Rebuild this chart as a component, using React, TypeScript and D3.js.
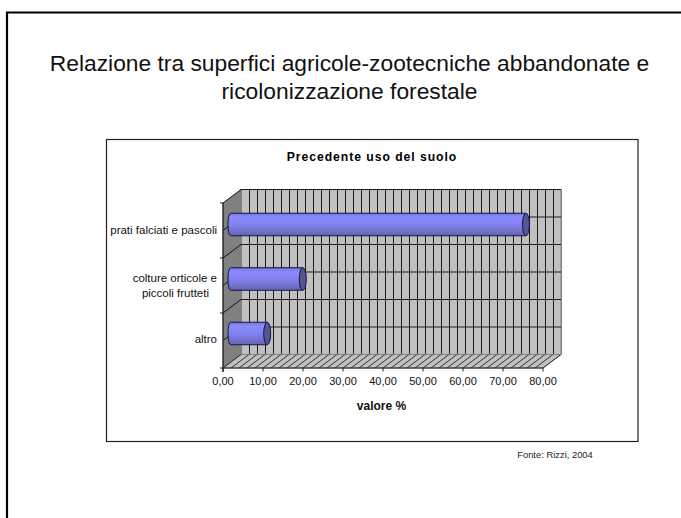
import React from "react";
import * as d3 from "d3";

const slideTitleLines = ["Relazione tra superfici agricole-zootecniche abbandonate e", "ricolonizzazione forestale"];
const chartTitle = "Precedente uso del suolo";
const axisTitle = "valore %";
const sourceNote = "Fonte: Rizzi, 2004";
const categories = ["prati falciati e pascoli", "colture orticole e|piccoli frutteti", "altro"];
const values = [74.5, 18.7, 9.8];
const xTicks = [0, 10, 20, 30, 40, 50, 60, 70, 80];
const xGrid = d3.range(0, 82, 2);
const yGridSteps = d3.range(0, 7);

const FONT = "'Liberation Sans', Arial, sans-serif";
const DX = 18;
const DY = -13.5;
const BAR_DX = 5;
const BAR_DY = -6;

const x = d3.scaleLinear().domain([0, 80]).range([223, 543]);
const yBand = d3.scaleBand<string>().domain(categories).range([203, 368]);
const yGrid = d3.scaleLinear().domain([0, 6]).range([203, 368]);
const fmt = (v: number) => d3.format(".2f")(v).replace(".", ",");

export default function App() {
  const front = yGrid(0), bottom = yGrid(6);
  const bw = yBand.bandwidth();
  const barH = bw * 0.41;
  const labelLine = d3.line();
  return (
    <svg width={681} height={518} style={{ position: "absolute", left: 0, top: 0, display: "block", background: "#fff" }} fontFamily={FONT}>
      <defs>
        <linearGradient id="barFill" x1="0" y1="0" x2="0" y2="1">
          <stop offset="0" stopColor="#7474dc" />
          <stop offset="0.18" stopColor="#8a8aff" />
          <stop offset="0.55" stopColor="#8080ec" />
          <stop offset="1" stopColor="#6464ae" />
        </linearGradient>
      </defs>

      <path d="M7,518V12.5H681" fill="none" stroke="#000" strokeWidth={2.2} />

      {slideTitleLines.map((t, i) => (
        <text key={t} x={349.5} y={71 + i * 28} textAnchor="middle" fontSize={22.8} fill="#111">{t}</text>
      ))}

      <rect x={106.5} y={139.5} width={531.5} height={302} fill="#fff" stroke="#222" strokeWidth={1.2} />

      <text x={372} y={161} textAnchor="middle" fontSize={12.2} fontWeight="bold" letterSpacing={0.95} fill="#000">{chartTitle}</text>

      {/* back wall */}
      <rect x={x(0) + DX} y={front + DY} width={x(80) - x(0)} height={bottom - front} fill="#c0c0c0" stroke="#808080" />
      {/* side wall */}
      <path d={`M${x(0)},${front}L${x(0) + DX},${front + DY}V${bottom + DY}L${x(0)},${bottom}Z`} fill="#808080" />
      {/* floor */}
      <path d={`M${x(0)},${bottom}L${x(0) + DX},${bottom + DY}H${x(80) + DX}L${x(80)},${bottom}Z`} fill="#c0c0c0" stroke="#808080" />

      {xGrid.map(v => (
        <g key={v}>
          <line x1={x(v) + DX + 0.5} x2={x(v) + DX + 0.5} y1={front + DY} y2={bottom + DY} stroke={v === 0 || v === 80 ? "#808080" : "#1c1c1c"} strokeWidth={1} />
          <line x1={x(v)} y1={bottom} x2={x(v) + DX} y2={bottom + DY} stroke="#222" strokeWidth={0.9} />
        </g>
      ))}
      {yGridSteps.map(i => (
        <g key={i}>
          <line x1={x(0) + DX} x2={x(80) + DX} y1={yGrid(i) + DY} y2={yGrid(i) + DY} stroke={i === 6 ? "#808080" : "#1c1c1c"} strokeWidth={1} />
          {i < 6 && <line x1={x(0)} y1={yGrid(i)} x2={x(0) + DX} y2={yGrid(i) + DY} stroke="#111" strokeWidth={1} />}
        </g>
      ))}

      {/* axes */}
      <line x1={x(0)} x2={x(0)} y1={front} y2={bottom + 4} stroke="#222" strokeWidth={1.4} />
      <line x1={x(0)} x2={x(80)} y1={bottom} y2={bottom} stroke="#222" strokeWidth={1.2} />
      {xTicks.map(v => (
        <g key={v}>
          <line x1={x(v)} x2={x(v)} y1={bottom} y2={bottom + 3.5} stroke="#222" />
          <text x={x(v)} y={385} textAnchor="middle" fontSize={11} fill="#111">{fmt(v)}</text>
        </g>
      ))}
      {[0, 2, 4, 6].map(i => (
        <line key={i} x1={x(0) - 3} x2={x(0)} y1={yGrid(i)} y2={yGrid(i)} stroke="#222" />
      ))}

      {/* bars */}
      {categories.map((c, i) => {
        const cy = (yBand(c) as number) + bw / 2 + BAR_DY - (i === 0 ? 0 : i * 0.5);
        const x0 = x(0) + BAR_DX;
        const x1 = x(values[i]) + BAR_DX;
        const top = cy - barH / 2, bot = cy + barH / 2;
        const rx = 3.5;
        return (
          <g key={c}>
            <path d={`M${x0 + 2.5},${top}H${x1}V${bot}H${x0 + 2.5}A2.5,${barH / 2} 0 0 1 ${x0 + 2.5},${top}Z`} fill="url(#barFill)" stroke="#14144a" strokeWidth={1} />
            <path d={labelLine([[x0 + 3, top + 4.5], [x1 - 3, top + 4.5]]) as string} stroke="#a0a0ee" strokeWidth={0.7} strokeDasharray="1 7" fill="none" />
            <ellipse cx={x1} cy={cy} rx={rx} ry={barH / 2} fill="#55558f" stroke="#14144a" strokeWidth={1} />
          </g>
        );
      })}

      {/* category labels */}
      {categories.map((c, i) => {
        const lines = c.split("|");
        const mid = (yBand(c) as number) + bw / 2;
        if (lines.length === 1) {
          return <text key={c} x={217} y={i === 0 ? 234 : 343} textAnchor="end" fontSize={11.5} fill="#111">{c}</text>;
        }
        return (
          <g key={c}>
            {lines.map((l, k) => (
              <text key={l} x={217 - (k === 0 ? 0 : 8)} y={mid - 3.5 + k * 15} textAnchor="end" fontSize={11.5} fill="#111">{l}</text>
            ))}
          </g>
        );
      })}

      <text x={381.5} y={410} textAnchor="middle" fontSize={12} fontWeight="bold" fill="#111">{axisTitle}</text>
      <text x={555} y={458} textAnchor="middle" fontSize={9.4} fill="#222">{sourceNote}</text>
    </svg>
  );
}
